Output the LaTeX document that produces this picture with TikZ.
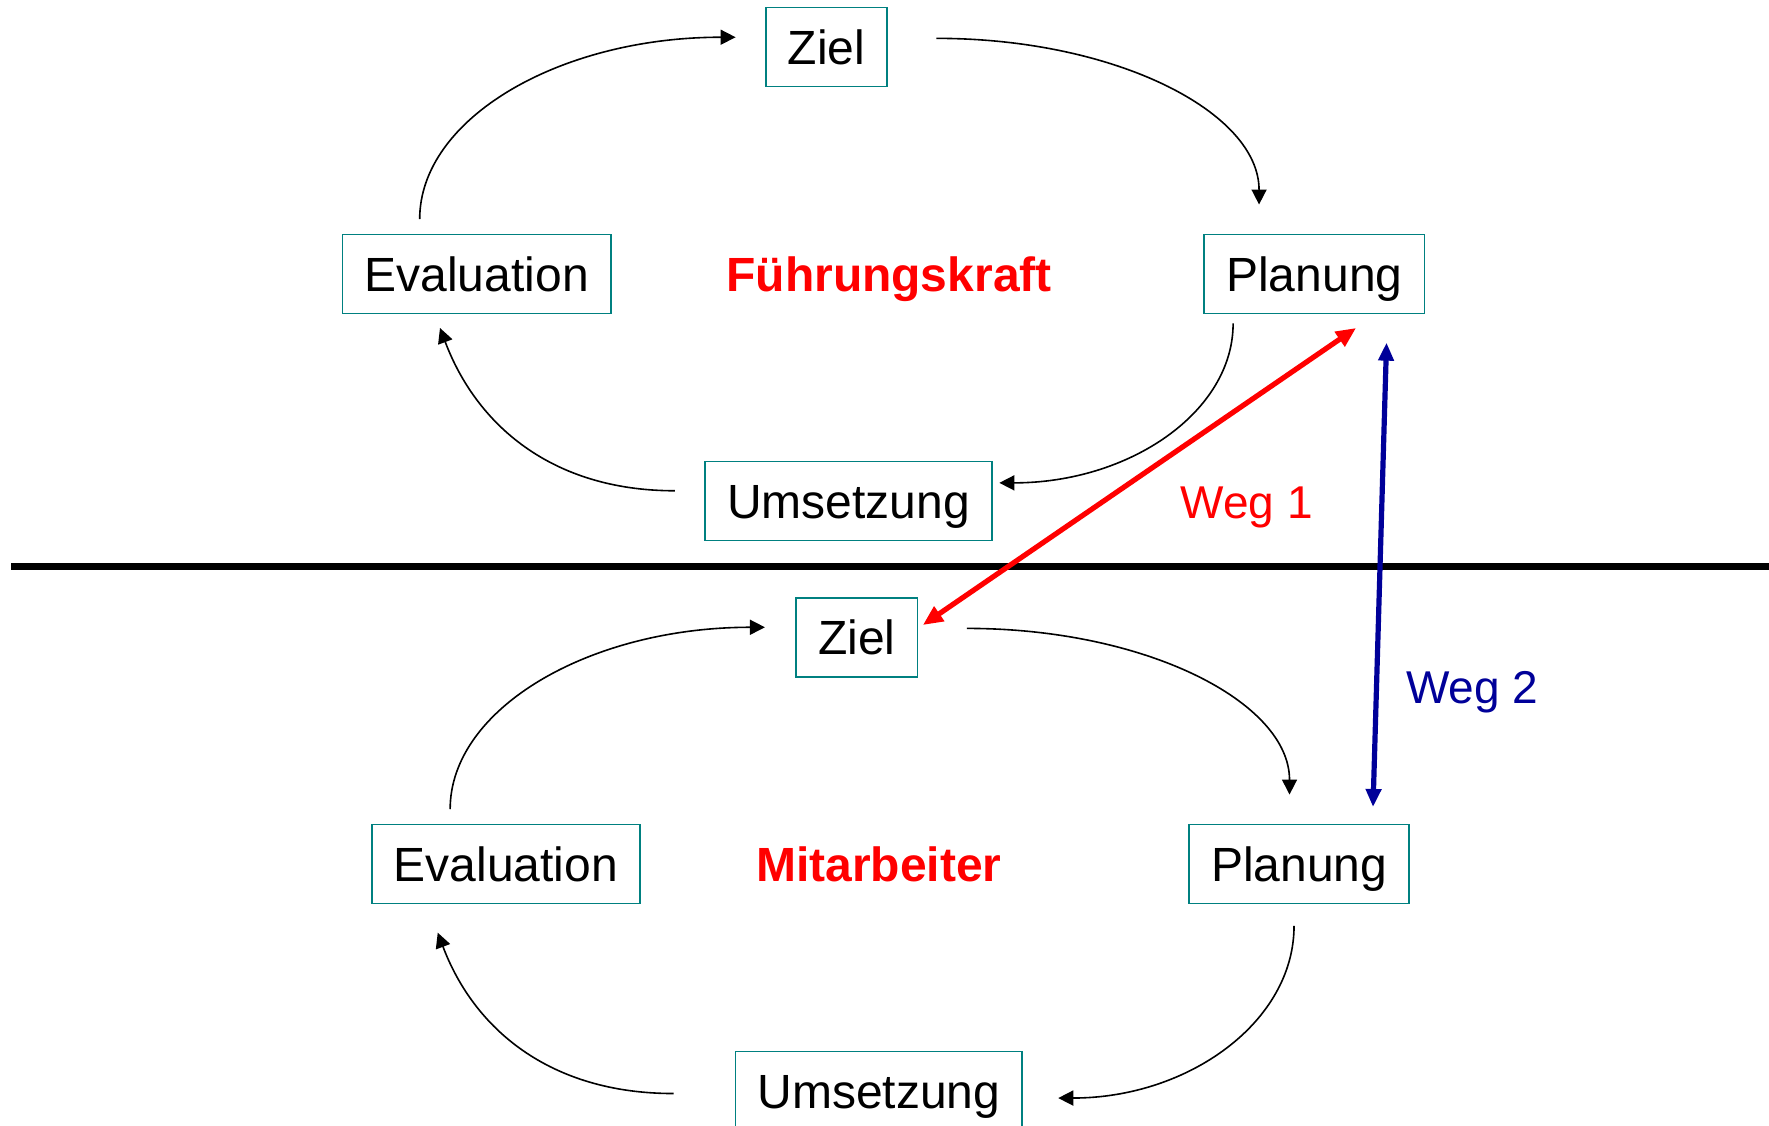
\documentclass[tikz,border=0pt]{standalone}
\usepackage{fontspec}
\setmainfont{Liberation Sans}
\usetikzlibrary{arrows.meta,calc}
\definecolor{boxteal}{RGB}{0,128,128}
\definecolor{wegred}{RGB}{255,0,0}
\definecolor{wegblue}{RGB}{0,0,153}
\begin{document}
\begin{tikzpicture}[x=0.5641pt,y=-0.5641pt,
  stage/.style={draw=boxteal, line width=0.8pt, font=\fontsize{24}{28}\selectfont,
    text height=17.2pt, text depth=0pt, inner xsep=11pt, minimum height=39.5pt},
  zielbox/.style={stage, minimum width=59.2pt},
  title/.style={font=\fontsize{24}{28}\selectfont\bfseries, text=wegred, text height=17.2pt, text depth=0pt},
  weglabel/.style={font=\fontsize{23}{27}\selectfont, text height=16.5pt, text depth=0pt},
  flow/.style={line width=0.8pt, -{Triangle[length=7.5pt,width=7.5pt]}},
  weg1/.style={draw=wegred, line width=2.6pt, {Triangle[length=10pt,width=8.5pt]}-{Triangle[length=10pt,width=8.5pt]}},
  weg2/.style={draw=wegblue, line width=2.6pt, {Triangle[length=9pt,width=7.5pt]}-{Triangle[length=9pt,width=7.5pt]}},
  divider/.style={line width=3.4pt}]
\useasboundingbox (0,0) rectangle (1568,998);

% upper cycle
\node[zielbox] (z1) at (732.5,41.5) {Ziel};
\node[stage] (e1) at (422.5,243) {Evaluation};
\node[stage] (p1) at (1165,243) {Planung};
\node[stage] (u1) at (752,444) {Umsetzung};
\node[title] (t1) at (788,243) {Führungskraft};

% lower cycle
\node[zielbox] (z2) at (759.5,565) {Ziel};
\node[stage] (e2) at (448.5,766) {Evaluation};
\node[stage] (p2) at (1151.5,766) {Planung};
\node[stage] (u2) at (779,967) {Umsetzung};
\node[title] (t2) at (779,766) {Mitarbeiter};

\node[weglabel, text=wegred] (w1) at (1105,445) {Weg 1};
\node[weglabel, text=wegblue] (w2) at (1305,609) {Weg 2};

% divider
\coordinate (dl) at (10,502);
\coordinate (dr) at (1568,502);
\draw[divider] (dl) -- (dr);

% upper arrows
\draw[flow] ([shift={(-50.5,-13)}]e1.north) .. controls +(0,-89.5) and +(-155.7,0) .. ([shift={(-26,-8.5)}]z1.west);
\draw[flow] ([shift={(43,-7.5)}]z1.east) .. controls +(159,0) and +(0,-81.7) .. ([shift={(-49,-26)}]p1.north);
\draw[flow] ([shift={(-72,8)}]p1.south) .. controls +(0,78.4) and +(115.4,0) .. ([shift={(6,-16)}]u1.east);
\draw[flow] ([shift={(-26,-9)}]u1.west) .. controls +(-110,0) and +(32,85) .. ([shift={(-32.5,12)}]e1.south);

% lower arrows
\draw[flow] ([shift={(-49.5,-13)}]e2.north) .. controls +(0,-89.5) and +(-155,0) .. ([shift={(-27,-9)}]z2.west);
\draw[flow] ([shift={(43,-8)}]z2.east) .. controls +(159,0) and +(0,-81.7) .. ([shift={(-8.5,-26)}]p2.north);
\draw[flow] ([shift={(-4.5,19)}]p2.south) .. controls +(0,85) and +(115.4,0) .. ([shift={(159,42)}]u2.north);
\draw[flow] ([shift={(-182,38)}]u2.north) .. controls +(-110,0) and +(32,85) .. ([shift={(-60.5,25)}]e2.south);

% Weg arrows
\draw[weg1] ([shift={(37,12)}]p1.south) -- ([shift={(4,-11)}]z2.east);
\draw[weg2] ([shift={(64,25)}]p1.south) -- ([shift={(65.5,-15)}]p2.north);
\end{tikzpicture}
\end{document}
